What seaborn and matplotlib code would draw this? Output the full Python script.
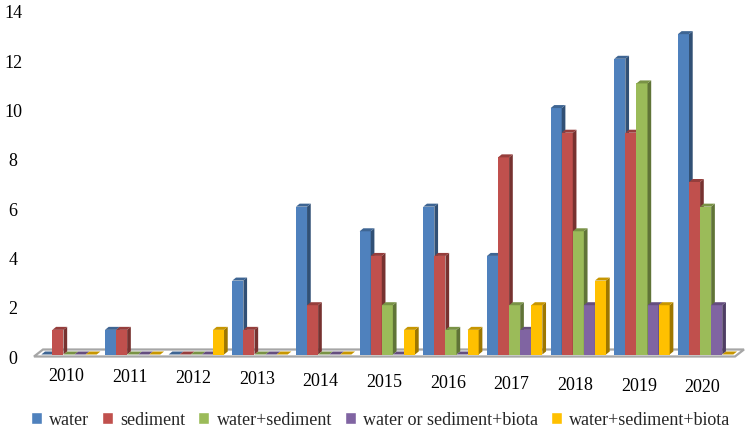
import pandas as pd
import seaborn as sns
import matplotlib.pyplot as plt
from matplotlib.colors import to_rgb
from matplotlib.patches import Polygon
from matplotlib.transforms import ScaledTranslation

years = ['2010', '2011', '2012', '2013', '2014', '2015', '2016', '2017', '2018', '2019', '2020']
water = [0, 1, 0, 3, 6, 5, 6, 4, 10, 12, 13]
sediment = [1, 1, 0, 1, 2, 4, 4, 8, 9, 9, 7]
water_sediment = [0, 0, 0, 0, 0, 2, 1, 2, 5, 11, 6]
water_or_sediment_biota = [0, 0, 0, 0, 0, 0, 0, 1, 2, 2, 2]
water_sediment_biota = [0, 0, 1, 0, 0, 1, 1, 2, 3, 2, 0]
colors = ['#4F81BD', '#C0504D', '#9BBB59', '#8064A2', '#FFC000']

df = pd.DataFrame({
    'year': years,
    'water': water,
    'sediment': sediment,
    'water+sediment': water_sediment,
    'water or sediment+biota': water_or_sediment_biota,
    'water+sediment+biota': water_sediment_biota,
})
long_df = df.melt(id_vars='year', var_name='type', value_name='count')

sns.set_theme(style='white')
plt.rcParams['font.family'] = ['Liberation Serif', 'DejaVu Serif']

W, H = 751, 431
fig = plt.figure(figsize=(W / 100, H / 100), dpi=100)
ax = fig.add_axes([34 / W, 1 - 355.5 / H, 706 / W, 345 / H])

sns.barplot(data=long_df, x='year', y='count', hue='type', palette=colors, saturation=1,
            width=0.87, gap=0, ax=ax)

ax.set_xlim(-0.55, 10.54)
ax.set_ylim(0, 14)
ax.set_xlabel('')
ax.set_ylabel('')
ax.set_yticks(range(0, 15, 2))
sns.despine(ax=ax, left=True, bottom=True)

# pixel -> data sizes for the fake 3d depth
px_x = 11.09 / 706
px_y = 14 / 345
depth_x = 3.7 * px_x
depth_y = 3 * px_y


def shade(c, f):
    return tuple(v * f for v in to_rgb(c))


# side and top faces, bars further right sit on top
bars = sorted(ax.patches, key=lambda p: p.get_x())
for k, bar in enumerate(bars):
    x0, w, h = bar.get_x(), bar.get_width(), bar.get_height()
    col = bar.get_facecolor()
    z = 3 + k * 0.01
    bar.set_zorder(z)
    bar.set_linewidth(0)
    side = [(x0 + w, 0), (x0 + w + depth_x, depth_y), (x0 + w + depth_x, h + depth_y), (x0 + w, h)]
    top = [(x0, h), (x0 + w, h), (x0 + w + depth_x, h + depth_y), (x0 + depth_x, h + depth_y)]
    ax.add_patch(Polygon(side, closed=True, fc=shade(col, 0.62), ec='none', zorder=z, clip_on=False))
    ax.add_patch(Polygon(top, closed=True, fc=shade(col, 0.78), ec='none', zorder=z, clip_on=False))

# grey floor
x_l, x_r = ax.get_xlim()
floor = [(x_l, -2 * px_y), (x_r - 5 * px_x, -2 * px_y), (x_r + 4 * px_x, 5 * px_y), (x_l + 9 * px_x, 5 * px_y)]
ax.add_patch(Polygon(floor, closed=True, fc='white', ec='#a6a6a6', lw=1.6, zorder=1, clip_on=False))

ax.tick_params(axis='both', length=0, labelsize=13, colors='black')
ax.tick_params(axis='x', pad=9)
ax.tick_params(axis='y', pad=15)
for lab in ax.get_yticklabels():
    lab.set_ha('center')
    lab.set_transform(lab.get_transform() + ScaledTranslation(0, -1.5 / 100, fig.dpi_scale_trans))
for i, lab in enumerate(ax.get_xticklabels()):
    lab.set_transform(lab.get_transform() + ScaledTranslation(-3 / 100, -1.15 * i / 100, fig.dpi_scale_trans))

sns.move_legend(ax, 'center', bbox_to_anchor=(380.5 / W, 1 - 421 / H), bbox_transform=fig.transFigure,
                ncol=5, title=None, frameon=False, fontsize=13, handlelength=0.62, handleheight=0.62,
                handletextpad=0.4, columnspacing=0.7, borderpad=0, borderaxespad=0)

plt.savefig('out.png', dpi=100)
